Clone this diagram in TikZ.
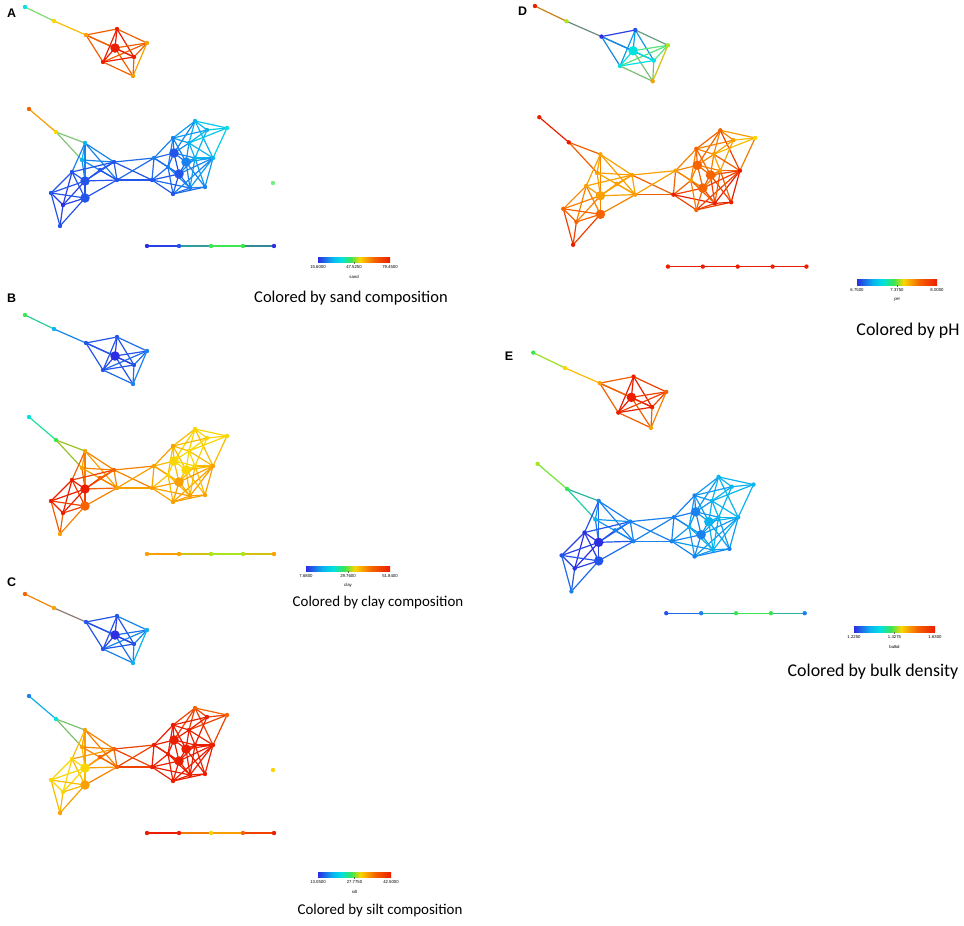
\documentclass[tikz,border=0pt]{standalone}
\usepackage{fontspec}
\setmainfont{Carlito}
\newfontfamily\arialf{Liberation Sans}
\definecolor{c0}{RGB}{45,45,225}
\definecolor{c1}{RGB}{35,85,235}
\definecolor{c2}{RGB}{25,130,240}
\definecolor{c3}{RGB}{10,180,240}
\definecolor{c4}{RGB}{0,225,225}
\definecolor{c5}{RGB}{60,230,80}
\definecolor{c6}{RGB}{170,230,30}
\definecolor{c7}{RGB}{250,215,0}
\definecolor{c8}{RGB}{250,160,0}
\definecolor{c9}{RGB}{245,100,0}
\definecolor{c10}{RGB}{235,30,0}
\pgfdeclarehorizontalshading{jet}{100bp}{color(0bp)=(c0); color(25bp)=(c0); color(35bp)=(c3); color(41bp)=(c4); color(48bp)=(c5); color(54bp)=(c7); color(64bp)=(c9); color(75bp)=(c10); color(100bp)=(c10)}
\tikzset{
  edge/.style={line width=1.2bp, line cap=round},
  nszs/.style={circle, inner sep=0pt, minimum size=4.4bp},
  nszB/.style={circle, inner sep=0pt, minimum size=9.5bp},
  cblab/.style={font=\arialf\fontsize{4.3}{5}\selectfont, inner sep=0pt},
  caption/.style={font=\fontsize{15}{18}\selectfont, inner sep=0pt},
  plabel/.style={font=\arialf\bfseries\fontsize{12.5}{14}\selectfont, inner sep=0pt}
}
\def\mainnodes{t1/25/7/s, t2/54/21/s, t3/86/35/s, t4/115/48/B, t5/117/29/s, t6/147/43/s, t7/134/57/s, t8/103/62/s, t9/133/76/s,
m1/29/109/s, m2/56/132/s, m3/85/143/s, m4/82/160/s, m5/72/172/s, m6/85/181/B, m7/85/198/B, m8/51/193/s, m9/63/205/s, m10/60/226/s, m11/114/162/s, m12/117/180/s, m13/100/170/s, m14/154/158/s, m15/152/180/s,
r1/195/121/s, r2/227/128/s, r3/207/130/s, r4/173/138/s, r5/189/143/s, r6/213/158/s, r7/174/153/B, r8/186/162/B, r9/179/174/B, r10/195/158/s, r11/205/187/s, r12/173/194/s, r13/190/188/s, r14/168/167/s,
l1/147/246/s, l2/179/246/s, l3/211/246/s, l4/243/246/s, l5/274/246/s}
\def\edges{t1/t2, t2/t3, t3/t5, t3/t8, t3/t4, t3/t7, t5/t6, t5/t4, t5/t8, t5/t7, t6/t4, t6/t7, t6/t9, t6/t8, t4/t8, t4/t7, t4/t9, t8/t7, t8/t9, t7/t9,
m1/m2, m2/m3, m2/m4, m3/m4, m3/m5, m3/m6, m3/m11, m3/m12, m3/m7, m4/m6, m4/m12, m4/m11, m5/m6, m5/m7, m5/m8, m5/m9, m5/m11, m6/m7, m6/m8, m6/m9, m6/m11, m6/m12, m7/m8, m7/m9, m7/m10, m7/m12, m8/m9, m8/m10, m9/m10, m11/m12, m11/m13, m13/m6, m13/m12, m11/m14, m12/m15, m11/m15, m12/m14,
m14/r4, m14/r7, m14/r14, m14/m15, m14/r9, m15/r12, m15/r14, m15/r9, m15/r13,
r1/r2, r1/r3, r1/r4, r1/r5, r1/r6, r1/r7, r2/r3, r2/r6, r2/r5, r3/r4, r3/r5, r3/r10, r4/r5, r4/r7, r4/r8, r4/r14, r5/r7, r5/r8, r5/r10, r5/r6, r6/r10, r6/r8, r6/r11, r6/r13, r6/r12, r7/r8, r7/r9, r7/r14, r7/r10, r8/r9, r8/r10, r8/r13, r8/r11, r9/r12, r9/r13, r9/r14, r9/r10, r10/r11, r10/r13, r11/r12, r11/r13, r12/r13, r12/r14, r14/r13, r6/r9,
l1/l2, l2/l3, l3/l4, l4/l5}
\newcommand\drawpanel[2]{%
  \foreach \n/\v in {#2} {\expandafter\xdef\csname v@\n\endcsname{\v}}
  \foreach \n/\x/\y/\s in \mainnodes {\coordinate (#1-\n) at (\x,\y);}
  \foreach \a/\b in \edges {\edef\va{\csname v@\a\endcsname}\edef\vb{\csname v@\b\endcsname}%
    \draw[edge, draw=c\va!50!c\vb] (#1-\a) -- (#1-\b);}
  \foreach \n/\x/\y/\s in \mainnodes {\edef\vn{\csname v@\n\endcsname}%
    \node[nsz\s, fill=c\vn] (#1-\n-dot) at (#1-\n) {};}
}
% name, x1, x2, ytop, ybottom, lo, mid, hi
\newcommand\colbar[8]{%
  \shade[shading=jet] (#2,#4) rectangle (#3,#5);
  \draw[line width=0.3bp, black!60] ({(#2+#3)/2},#5) -- ({(#2+#3)/2},#5+1.5);
  \node[cblab] (#1-lo) at (#2,#5+5) {#6};
  \node[cblab] (#1-mid) at ({(#2+#3)/2},#5+5) {#7};
  \node[cblab] (#1-hi) at (#3,#5+5) {#8};
}
\begin{document}
\begin{tikzpicture}[x=1bp, y=-1bp]
\useasboundingbox[fill=white] (0,0) rectangle (964,926);
% ---------- A ----------
\begin{scope}
\coordinate (A-iso) at (273,183);
\node[nszs, fill=c5!70!white] (A-iso-dot) at (A-iso) {};
\drawpanel{A}{t1/4, t2/7, t3/8, t4/10, t5/10, t6/8, t7/10, t8/10, t9/8, m1/9, m2/7, m3/3, m4/3, m5/1, m6/1, m7/1, m8/1, m9/0, m10/1, m11/1, m12/1, m13/1, m14/2, m15/1, r1/3, r2/4, r3/3, r4/2, r5/3, r6/3, r7/1, r8/2, r9/1, r10/3, r11/2, r12/1, r13/2, r14/2, l1/0, l2/1, l3/5, l4/5, l5/0}
\end{scope}
% ---------- B ----------
\begin{scope}[shift={(0,308)}]
\drawpanel{B}{t1/5, t2/3, t3/1, t4/0, t5/1, t6/2, t7/1, t8/1, t9/2, m1/4, m2/5, m3/8, m4/8, m5/10, m6/10, m7/9, m8/10, m9/10, m10/8, m11/9, m12/8, m13/9, m14/8, m15/8, r1/7, r2/7, r3/7, r4/8, r5/7, r6/8, r7/7, r8/7, r9/8, r10/7, r11/8, r12/8, r13/8, r14/7, l1/8, l2/8, l3/6, l4/6, l5/8}
\end{scope}
% ---------- C ----------
\begin{scope}[shift={(0,587)}]
\coordinate (C-iso) at (273,183);
\node[nszs, fill=c7] (C-iso-dot) at (C-iso) {};
\drawpanel{C}{t1/9, t2/8, t3/1, t4/0, t5/1, t6/3, t7/1, t8/1, t9/3, m1/2, m2/4, m3/8, m4/8, m5/7, m6/7, m7/8, m8/7, m9/7, m10/8, m11/9, m12/9, m13/9, m14/10, m15/10, r1/9, r2/9, r3/10, r4/10, r5/10, r6/10, r7/10, r8/10, r9/10, r10/10, r11/10, r12/10, r13/10, r14/10, l1/10, l2/10, l3/7, l4/9, l5/10}
\end{scope}
% ---------- D ----------
\begin{scope}[shift={(507.7,-1.6)}, scale=1.09]
\drawpanel{D}{t1/10, t2/6, t3/0, t4/4, t5/1, t6/6, t7/4, t8/4, t9/8, m1/10, m2/10, m3/8, m4/8, m5/8, m6/8, m7/9, m8/9, m9/9, m10/10, m11/8, m12/8, m13/8, m14/8, m15/10, r1/9, r2/7, r3/8, r4/9, r5/8, r6/10, r7/9, r8/9, r9/9, r10/8, r11/10, r12/9, r13/10, r14/8, l1/10, l2/10, l3/10, l4/10, l5/10}
\end{scope}
% ---------- E ----------
\begin{scope}[shift={(506,345)}, scale=1.09]
\drawpanel{E}{t1/5, t2/7, t3/8, t4/10, t5/10, t6/9, t7/10, t8/10, t9/8, m1/6, m2/5, m3/2, m4/3, m5/0, m6/0, m7/1, m8/1, m9/0, m10/2, m11/2, m12/2, m13/2, m14/2, m15/2, r1/3, r2/3, r3/3, r4/2, r5/3, r6/3, r7/2, r8/3, r9/2, r10/3, r11/2, r12/2, r13/3, r14/3, l1/1, l2/2, l3/5, l4/5, l5/2}
\end{scope}
% ---------- colour bars ----------
\colbar{cbA}{318}{390}{257}{262}{15.6000}{47.5250}{79.4500}
\node[cblab] (cbA-name) at (354,277) {sand};
\colbar{cbB}{306}{390}{566}{571}{7.6800}{29.7600}{51.8400}
\node[cblab] (cbB-name) at (348,585) {clay};
\colbar{cbC}{318}{391}{872}{877}{13.0500}{27.7750}{42.5000}
\node[cblab] (cbC-name) at (354.5,892) {silt};
\colbar{cbD}{857}{937}{279}{285}{6.7500}{7.3750}{8.0000}
\node[cblab] (cbD-name) at (897,299) {pH};
\colbar{cbE}{854}{935}{626}{632}{1.2250}{1.4275}{1.6300}
\node[cblab] (cbE-name) at (894.5,647) {bulkd};
% ---------- captions ----------
\node[caption, font=\fontsize{16.5}{19}\selectfont] (capA) at (351,298) {Colored by sand composition};
\node[caption] (capB) at (378,603) {Colored by clay composition};
\node[caption] (capC) at (380,911) {Colored by silt composition};
\node[caption, font=\fontsize{18}{21}\selectfont] (capD) at (908,331) {Colored by pH};
\node[caption, font=\fontsize{18}{21}\selectfont] (capE) at (873,672) {Colored by bulk density};
% ---------- panel labels ----------
\node[plabel] (labA) at (11.5,13) {A};
\node[plabel] (labB) at (11.5,298) {B};
\node[plabel] (labC) at (11.5,582) {C};
\node[plabel] (labD) at (522.5,11.5) {D};
\node[plabel] (labE) at (509,356) {E};
\end{tikzpicture}
\end{document}
